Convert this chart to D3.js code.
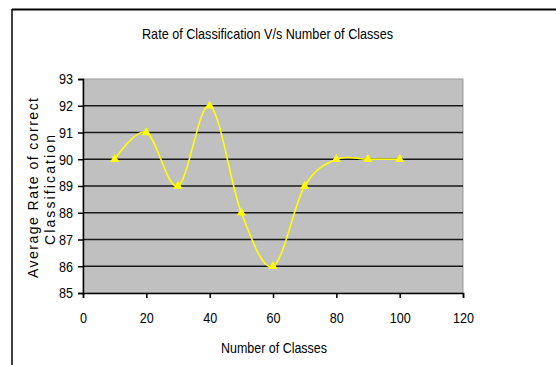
<!DOCTYPE html>
<html>
<head>
<meta charset="utf-8">
<script src="https://cdn.jsdelivr.net/npm/d3@7"></script>
<style>
  html, body { margin: 0; padding: 0; background: #fff; }
  svg { display: block; }
  text { font-family: "Liberation Sans", Arial, sans-serif; fill: #000; }
</style>
</head>
<body>
<svg id="chart" width="556" height="365"></svg>
<script>
// ---- data ----
const numberOfClasses = [10, 20, 30, 40, 50, 60, 70, 80, 90, 100];
const rateOfCorrect   = [90, 91, 89, 92, 88, 86, 89, 90, 90, 90];
const xTickValues = [0, 20, 40, 60, 80, 100, 120];
const yTickValues = [85, 86, 87, 88, 89, 90, 91, 92, 93];
const chartTitle = "Rate of Classification V/s Number of Classes";
const xTitle = "Number of Classes";
const yTitleLines = ["Average Rate of correct", "Classification"];

// ---- layout ----
const W = 556, H = 365;
const plot = { left: 83, right: 463, top: 79, bottom: 293 };
const FONT = '"Liberation Sans", Arial, sans-serif';
const SQUEEZE = 0.84;

const svg = d3.select("#chart");

// compress text horizontally (narrow look of the original)
function condense(sel, k) {
  sel.each(function () {
    const w = this.getComputedTextLength();
    this.setAttribute("textLength", (w * k).toFixed(2));
    this.setAttribute("lengthAdjust", "spacingAndGlyphs");
  });
}

// outer frame (top and left edges visible)
svg.append("line").attr("x1", 12).attr("y1", 9.5).attr("x2", W).attr("y2", 9.5)
  .attr("stroke", "#000").attr("stroke-width", 2);
svg.append("line").attr("x1", 12).attr("y1", 9).attr("x2", 12).attr("y2", H)
  .attr("stroke", "#000").attr("stroke-width", 1.5);

const x = d3.scaleLinear().domain([0, 120]).range([plot.left, plot.right]);
const y = d3.scaleLinear().domain([85, 93]).range([plot.bottom, plot.top]);

// plot background
svg.append("rect")
  .attr("x", plot.left).attr("y", plot.top)
  .attr("width", plot.right - plot.left).attr("height", plot.bottom - plot.top)
  .attr("fill", "#c0c0c0").attr("stroke", "#9a9a9a").attr("stroke-width", 1);

// gridlines
svg.append("g").selectAll("line")
  .data(yTickValues.filter(v => v > 85 && v < 93))
  .join("line")
  .attr("x1", plot.left).attr("x2", plot.right)
  .attr("y1", d => y(d)).attr("y2", d => y(d))
  .attr("stroke", "#1a1a1a").attr("stroke-width", 1.5);

// axes
const xAxis = d3.axisBottom(x).tickValues(xTickValues).tickSize(5).tickPadding(14).tickFormat(d3.format("d"));
const yAxis = d3.axisLeft(y).tickValues(yTickValues).tickSize(5).tickPadding(5).tickFormat(d3.format("d"));

const gx = svg.append("g").attr("transform", `translate(0,${plot.bottom})`).call(xAxis);
const gy = svg.append("g").attr("transform", `translate(${plot.left},0)`).call(yAxis);
[gx, gy].forEach(g => {
  g.select(".domain").attr("stroke", "#000").attr("stroke-width", 1.5);
  g.selectAll(".tick line").attr("stroke", "#000").attr("stroke-width", 1.5);
  g.selectAll(".tick text").attr("font-size", 15).attr("font-family", FONT).attr("fill", "#000")
    .call(condense, SQUEEZE);
});

// smoothed line
const pts = numberOfClasses.map((c, i) => [c, rateOfCorrect[i]]);
const line = d3.line().x(d => x(d[0])).y(d => y(d[1])).curve(d3.curveCardinal.tension(0));
svg.append("path").datum(pts)
  .attr("d", line)
  .attr("fill", "none").attr("stroke", "#ffff00").attr("stroke-width", 1.6);

// triangle markers
const tri = d3.symbol().type(d3.symbolTriangle).size(36);
svg.append("g").selectAll("path")
  .data(pts).join("path")
  .attr("d", tri)
  .attr("transform", d => `translate(${x(d[0])},${y(d[1])})`)
  .attr("fill", "#ffff00");

// title
svg.append("text").attr("x", 267.5).attr("y", 39)
  .attr("text-anchor", "middle").attr("font-size", 15)
  .attr("textLength", 251).attr("lengthAdjust", "spacingAndGlyphs")
  .text(chartTitle);

// x axis title
svg.append("text").attr("x", 274).attr("y", 353)
  .attr("text-anchor", "middle").attr("font-size", 15)
  .attr("textLength", 106).attr("lengthAdjust", "spacingAndGlyphs")
  .text(xTitle);

// y axis title (two rotated lines)
svg.append("text")
  .attr("transform", "translate(37.5,188) rotate(-90)")
  .attr("text-anchor", "middle").attr("font-size", 14)
  .attr("textLength", 180).attr("lengthAdjust", "spacing")
  .text(yTitleLines[0]);
svg.append("text")
  .attr("transform", "translate(55,190) rotate(-90)")
  .attr("text-anchor", "middle").attr("font-size", 14)
  .attr("textLength", 110).attr("lengthAdjust", "spacing")
  .text(yTitleLines[1]);
</script>
</body>
</html>
